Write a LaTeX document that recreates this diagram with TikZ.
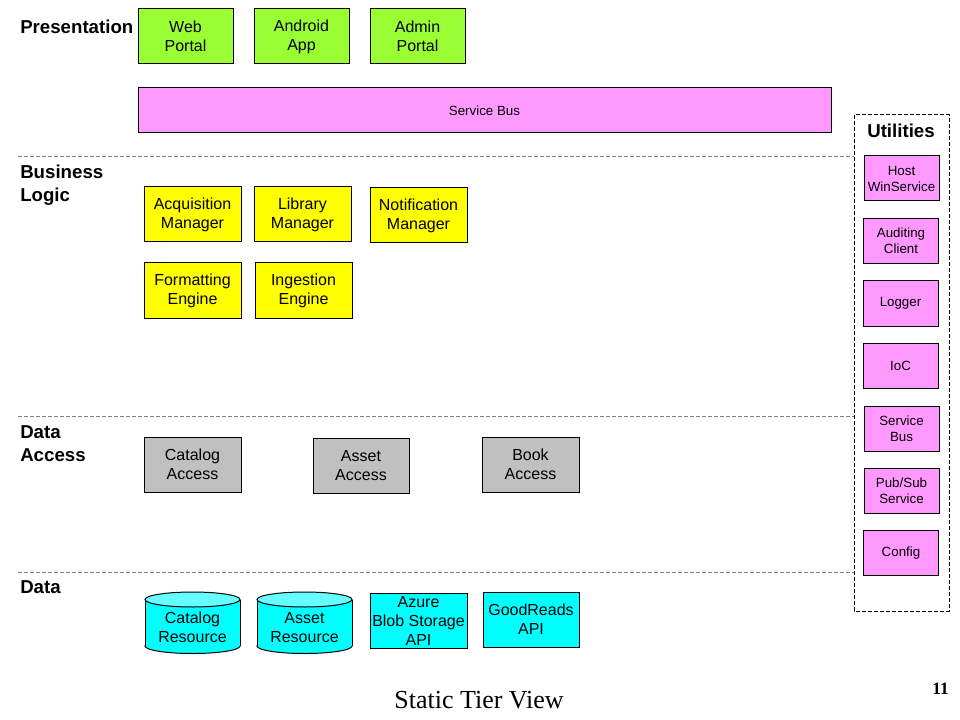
\documentclass[tikz,border=0pt]{standalone}
\usepackage{fontspec}
\setmainfont{Liberation Sans}
\newfontfamily\timesfont{Liberation Serif}
\definecolor{cgreen}{HTML}{99FF33}
\definecolor{cyellow}{HTML}{FFFF00}
\definecolor{cgray}{HTML}{C0C0C0}
\definecolor{ccyan}{HTML}{00FFFF}
\definecolor{ccyantop}{HTML}{66FFFF}
\definecolor{cpink}{HTML}{FF99FF}
\definecolor{cline}{HTML}{808080}
\begin{document}
\begin{tikzpicture}[x=0.75pt,y=-0.75pt,
  box/.style={draw=black,line width=0.75pt,inner sep=0pt,align=center,
    font=\fontsize{12}{14.25}\selectfont},
  big/.style={box,minimum width=97*0.75pt,minimum height=55*0.75pt},
  small/.style={box,fill=cpink,minimum width=75*0.75pt,minimum height=45*0.75pt,
    font=\fontsize{10}{12}\selectfont},
  tier/.style={anchor=west,align=left,inner sep=0pt,
    font=\fontsize{14}{17.25}\selectfont\bfseries},
  tierline/.style={draw=cline,line width=0.75pt,dash pattern=on 3pt off 1.5pt},
  cyltext/.style={align=center,inner sep=0pt,font=\fontsize{12}{14.25}\selectfont},
]
\useasboundingbox (0,0) rectangle (960,720);

% tier labels
\node[tier] (presentation) at (20,27) {Presentation};
\node[tier] (business) at (20,185.5) {Business\\Logic};
\node[tier] (dataaccess) at (20,443.5) {Data\\Access};
\node[tier] (data) at (20,587) {Data};

% tier separators
\coordinate (s1a) at (18,157); \coordinate (s1b) at (854,157);
\coordinate (s2a) at (18,416); \coordinate (s2b) at (854,416);
\coordinate (s3a) at (18,572); \coordinate (s3b) at (854,572);
\draw[tierline] (s1a) -- (s1b);
\draw[tierline] (s2a) -- (s2b);
\draw[tierline] (s3a) -- (s3b);

% presentation
\node[big,fill=cgreen,minimum width=95*0.75pt] (web) at (185.5,36.5) {Web\\Portal};
\node[big,fill=cgreen,minimum width=95*0.75pt] (android) at (301.5,36.5) {Android\\App};
\node[big,fill=cgreen,minimum width=95*0.75pt] (admin) at (417.5,36.5) {Admin\\Portal};
\node[box,fill=cpink,minimum width=693*0.75pt,minimum height=45*0.75pt,
  font=\fontsize{10}{12}\selectfont] (bus) at (484.5,110.5) {Service Bus};

% business logic
\node[big,fill=cyellow] (acq) at (192.5,214.5) {Acquisition\\Manager};
\node[big,fill=cyellow] (lib) at (302.5,214.5) {Library\\Manager};
\node[big,fill=cyellow] (notif) at (418.5,215.5) {Notification\\Manager};
\node[big,fill=cyellow] (fmt) at (192.5,290.5) {Formatting\\Engine};
\node[big,fill=cyellow] (ing) at (303.5,290.5) {Ingestion\\Engine};

% data access
\node[big,fill=cgray] (catacc) at (192.5,464.5) {Catalog\\Access};
\node[big,fill=cgray,minimum width=96*0.75pt] (assacc) at (361,465.5) {Asset\\Access};
\node[big,fill=cgray] (bookacc) at (530.5,464.5) {Book\\Access};

% data: cylinders
\foreach \cx in {192.5,304.5}{
  \fill[ccyan,draw=black,line width=0.75pt] (\cx,646) ellipse [x radius=47.5,y radius=7.5];
  \fill[ccyan] (\cx-47.5,599.5) rectangle (\cx+47.5,646);
  \draw[line width=0.75pt] (\cx-47.5,599.5) -- (\cx-47.5,646);
  \draw[line width=0.75pt] (\cx+47.5,599.5) -- (\cx+47.5,646);
  \fill[ccyantop,draw=black,line width=0.75pt] (\cx,599.5) ellipse [x radius=47.5,y radius=7.5];
}
\node[cyltext] (catres) at (192.5,627.5) {Catalog\\Resource};
\node[cyltext] (assres) at (304.5,627.5) {Asset\\Resource};
\node[big,fill=ccyan] (azure) at (418.5,620.5) {Azure\\Blob Storage\\API};
\node[big,fill=ccyan,minimum width=96*0.75pt] (goodreads) at (531,619.5) {GoodReads\\API};

% utilities
\coordinate (ua) at (854,115); \coordinate (ub) at (949,611);
\draw[line width=0.75pt,dash pattern=on 3pt off 1.5pt] (ua) rectangle (ub);
\node[inner sep=0pt,font=\fontsize{14}{17}\selectfont\bfseries] (utilities) at (901,131) {Utilities};
\node[small] (host) at (901.5,178.5) {Host\\WinService};
\node[small] (audit) at (901,241) {Auditing\\Client};
\node[small] (logger) at (900.5,303.5) {Logger};
\node[small] (ioc) at (900.5,366) {IoC};
\node[small] (ubus) at (901.5,428.5) {Service\\Bus};
\node[small] (pubsub) at (901.5,491) {Pub/Sub\\Service};
\node[small] (config) at (901,553) {Config};

% title and page number
\node[inner sep=0pt,font=\timesfont\fontsize{19.5}{22}\selectfont] (title) at (479,700) {Static Tier View};
\node[inner sep=0pt,font=\timesfont\fontsize{13}{15}\selectfont\bfseries] (page) at (940.5,689) {11};
\end{tikzpicture}
\end{document}
